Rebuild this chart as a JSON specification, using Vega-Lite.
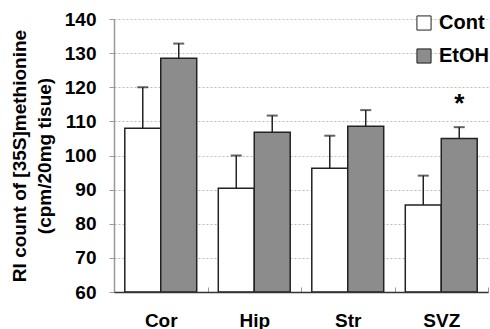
{
  "$schema": "https://vega.github.io/schema/vega-lite/v6.json",
  "width": 374,
  "height": 273,
  "autosize": {"type": "none"},
  "padding": {"left": 114, "top": 19, "right": 2, "bottom": 37},
  "background": "white",
  "config": {
    "view": {"stroke": null},
    "font": "Liberation Sans",
    "axis": {"labelFont": "Liberation Sans", "titleFont": "Liberation Sans"}
  },
  "data": {
    "values": [
      {"region": "Cor", "group": "Cont", "mean": 108, "upper": 120},
      {"region": "Cor", "group": "EtOH", "mean": 128.5, "upper": 132.8},
      {"region": "Hip", "group": "Cont", "mean": 90.4, "upper": 100},
      {"region": "Hip", "group": "EtOH", "mean": 106.8, "upper": 111.7},
      {"region": "Str", "group": "Cont", "mean": 96.3, "upper": 105.8},
      {"region": "Str", "group": "EtOH", "mean": 108.6, "upper": 113.3},
      {"region": "SVZ", "group": "Cont", "mean": 85.5, "upper": 94.1},
      {"region": "SVZ", "group": "EtOH", "mean": 105, "upper": 108.3, "sig": "*", "sigY": 116.8}
    ]
  },
  "encoding": {
    "x": {
      "field": "region", "type": "nominal", "sort": ["Cor", "Hip", "Str", "SVZ"],
      "scale": {"paddingInner": 0, "paddingOuter": 0},
      "axis": {
        "orient": "bottom", "title": null, "labelAngle": 0, "labelFontSize": 19, "labelFontWeight": "bold",
        "labelColor": "black", "labelPadding": 24, "tickBand": "extent", "tickSize": -5,
        "tickColor": "#999", "domainColor": "#333", "domainWidth": 1.5, "grid": false, "zindex": 1
      }
    },
    "xOffset": {
      "field": "group", "type": "nominal", "sort": ["Cont", "EtOH"],
      "scale": {"paddingInner": 0, "paddingOuter": 0.3}
    }
  },
  "layer": [
    {
      "mark": {"type": "bar", "stroke": "#222", "strokeWidth": 1.5},
      "encoding": {
        "y": {
          "field": "mean", "type": "quantitative",
          "scale": {"domain": [60, 140], "nice": false, "zero": false},
          "axis": {
            "values": [60, 70, 80, 90, 100, 110, 120, 130, 140],
            "labelOverlap": false,
            "title": ["RI count of [35S]methionine", "(cpm/20mg tisue)"],
            "titleFontSize": 19, "titleFontWeight": "bold", "titleColor": "black",
            "titleLineHeight": 25, "titlePadding": 10,
            "labelFontSize": 19, "labelFontWeight": "bold", "labelColor": "black",
            "labelPadding": 13, "tickSize": 5, "tickColor": "#999",
            "domainColor": "#999", "domainWidth": 1.5,
            "grid": true, "gridColor": "#bbb", "gridDash": [2, 2], "gridWidth": 1
          }
        },
        "y2": {"datum": 60},
        "fill": {
          "field": "group", "type": "nominal",
          "scale": {"domain": ["Cont", "EtOH"], "range": ["white", "#8c8c8c"]},
          "legend": {
            "title": null, "orient": "none", "legendX": 300, "legendY": -6,
            "symbolType": "square", "symbolSize": 200, "symbolStrokeColor": "#222",
            "symbolStrokeWidth": 1, "labelFontSize": 20, "labelFontWeight": "bold",
            "labelColor": "black", "rowPadding": 13, "labelOffset": 5
          }
        }
      }
    },
    {
      "mark": {"type": "rule", "stroke": "#222", "strokeWidth": 1.5},
      "encoding": {
        "y": {
          "field": "mean", "type": "quantitative",
          "axis": {
            "values": [60, 70, 80, 90, 100, 110, 120, 130, 140],
            "labelOverlap": false,
            "title": ["RI count of [35S]methionine", "(cpm/20mg tisue)"],
            "titleFontSize": 19, "titleFontWeight": "bold", "titleColor": "black",
            "titleLineHeight": 25, "titlePadding": 10,
            "labelFontSize": 19, "labelFontWeight": "bold", "labelColor": "black",
            "labelPadding": 13, "tickSize": 5, "tickColor": "#999",
            "domainColor": "#999", "domainWidth": 1.5,
            "grid": true, "gridColor": "#bbb", "gridDash": [2, 2], "gridWidth": 1
          }
        },
        "y2": {"field": "upper"}
      }
    },
    {
      "mark": {"type": "tick", "color": "#222", "thickness": 2, "size": 11},
      "encoding": {
        "y": {
          "field": "upper", "type": "quantitative",
          "axis": {
            "values": [60, 70, 80, 90, 100, 110, 120, 130, 140],
            "labelOverlap": false,
            "title": ["RI count of [35S]methionine", "(cpm/20mg tisue)"],
            "titleFontSize": 19, "titleFontWeight": "bold", "titleColor": "black",
            "titleLineHeight": 25, "titlePadding": 10,
            "labelFontSize": 19, "labelFontWeight": "bold", "labelColor": "black",
            "labelPadding": 13, "tickSize": 5, "tickColor": "#999",
            "domainColor": "#999", "domainWidth": 1.5,
            "grid": true, "gridColor": "#bbb", "gridDash": [2, 2], "gridWidth": 1
          }
        }
      }
    },
    {
      "mark": {"type": "text", "fontSize": 26, "fontWeight": "bold", "baseline": "middle", "dy": 6},
      "encoding": {
        "y": {
          "field": "sigY", "type": "quantitative",
          "axis": {
            "values": [60, 70, 80, 90, 100, 110, 120, 130, 140],
            "labelOverlap": false,
            "title": ["RI count of [35S]methionine", "(cpm/20mg tisue)"],
            "titleFontSize": 19, "titleFontWeight": "bold", "titleColor": "black",
            "titleLineHeight": 25, "titlePadding": 10,
            "labelFontSize": 19, "labelFontWeight": "bold", "labelColor": "black",
            "labelPadding": 13, "tickSize": 5, "tickColor": "#999",
            "domainColor": "#999", "domainWidth": 1.5,
            "grid": true, "gridColor": "#bbb", "gridDash": [2, 2], "gridWidth": 1
          }
        },
        "text": {"field": "sig"}
      }
    }
  ]
}
